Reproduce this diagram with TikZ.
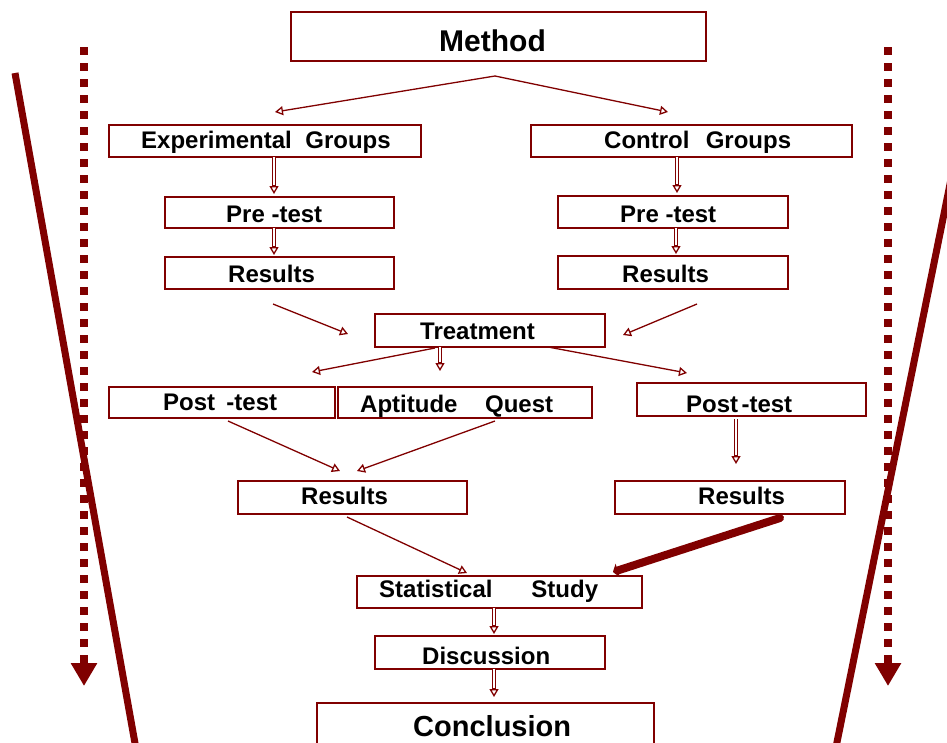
\documentclass[tikz,border=0pt]{standalone}
\usepackage{fontspec}
\setmainfont{Liberation Sans}
\usetikzlibrary{arrows.meta,calc}
\definecolor{dred}{HTML}{800000}
\begin{document}
\begin{tikzpicture}[x=1pt,y=-1pt,
  box/.style={draw=dred, line width=2pt, inner sep=0pt},
  lbl/.style={anchor=base west, inner sep=0pt, font=\fontsize{24}{28}\selectfont\bfseries},
  arr/.style={draw=dred, line width=1.3pt, -{Triangle[open,length=8pt,width=9pt]}},
  dbl/.style={draw=dred, double=white, double distance=2pt, line width=0.9pt},
  side/.style={draw=dred, line width=7pt},
  dots/.style={draw=dred, line width=8pt, dash pattern=on 7.5pt off 8.5pt, -{Triangle[length=23pt,width=25pt]}},
  heavy/.style={draw=dred, line width=8pt, line cap=round, -{Triangle[length=5pt,width=14pt]}}
  ]
\useasboundingbox (0,0) rectangle (947,742);
\clip (0,0) rectangle (947,742);

% side decorations
\coordinate (ltop) at (15,73);   \coordinate (lbot) at (138,760);
\coordinate (rtop) at (963,120); \coordinate (rbot) at (834,757);
\draw[side] (ltop) -- (lbot);
\draw[side] (rtop) -- (rbot);
\coordinate (ldtop) at (84,47);  \coordinate (ldbot) at (84,686);
\coordinate (rdtop) at (888,47); \coordinate (rdbot) at (888,686);
\draw[dots] (ldtop) -- (ldbot);
\draw[dots] (rdtop) -- (rdbot);

% boxes
\node[box, minimum width=415pt, minimum height=49pt] (method) at (498.5,36.5) {};
\node[box, minimum width=312pt, minimum height=32pt] (exp)    at (265,141) {};
\node[box, minimum width=321pt, minimum height=32pt] (ctrl)   at (691.5,141) {};
\node[box, minimum width=229pt, minimum height=31pt] (pre1)   at (279.5,212.5) {};
\node[box, minimum width=229pt, minimum height=32pt] (res1)   at (279.5,273) {};
\node[box, minimum width=230pt, minimum height=32pt] (pre2)   at (673,212) {};
\node[box, minimum width=230pt, minimum height=33pt] (res2)   at (673,272.5) {};
\node[box, minimum width=230pt, minimum height=33pt] (treat)  at (490,330.5) {};
\node[box, minimum width=226pt, minimum height=31pt] (post1)  at (222,402.5) {};
\node[box, minimum width=254pt, minimum height=31pt] (apt)    at (465,402.5) {};
\node[box, minimum width=229pt, minimum height=33pt] (post2)  at (751.5,399.5) {};
\node[box, minimum width=229pt, minimum height=33pt] (res3)   at (352.5,497.5) {};
\node[box, minimum width=230pt, minimum height=33pt] (res4)   at (730,497.5) {};
\node[box, minimum width=285pt, minimum height=32pt] (stat)   at (499.5,592) {};
\node[box, minimum width=230pt, minimum height=33pt] (disc)   at (490,652.5) {};
\node[box, minimum width=337pt, minimum height=67pt] (concl)  at (485.5,736.5) {};

% labels
\node[lbl] (method-t) at (439,51) {\fontsize{30}{34}\selectfont Method};
\node[lbl] (exp-t)   at (141,148) {Experimental\hspace{0.56em}Groups};
\node[lbl] (ctrl-t)  at (604,148) {Control\hspace{0.68em}Groups};
\node[lbl] (pre1-t)  at (226,222) {Pre -test};
\node[lbl] (res1-t)  at (228,282) {Results};
\node[lbl] (pre2-t)  at (620,222) {Pre -test};
\node[lbl] (res2-t)  at (622,282) {Results};
\node[lbl] (treat-t) at (420,339) {Treatment};
\node[lbl] (post1-t) at (163,410.5) {Post\hspace{0.47em}-test};
\node[lbl] (apt-t)   at (360,412.5) {Aptitude\hspace{1.15em}Quest};
\node[lbl] (post2-t) at (686,412) {Post\hspace{0.14em}-test};
\node[lbl] (res3-t)  at (301,504) {Results};
\node[lbl] (res4-t)  at (698,504) {Results};
\node[lbl] (stat-t)  at (379,597) {Statistical\hspace{1.62em}Study};
\node[lbl] (disc-t)  at (422,664) {Discussion};
\node[lbl] (concl-t) at (413,736) {\fontsize{29}{33}\selectfont Conclusion};

% connector end points
\coordinate (m1) at (495,76);
\coordinate (e1) at (275,112);
\coordinate (c1) at (668,112);
\coordinate (a1) at (274,157);  \coordinate (a2) at (274,194);
\coordinate (b1) at (677,157);  \coordinate (b2) at (677,193);
\coordinate (a3) at (274,228);  \coordinate (a4) at (274,255);
\coordinate (b3) at (676,228);  \coordinate (b4) at (676,254);
\coordinate (r1a) at (273,304); \coordinate (r1b) at (348,334);
\coordinate (r2a) at (697,304); \coordinate (r2b) at (623,335);
\coordinate (t1a) at (435,348); \coordinate (t1b) at (312,372);
\coordinate (t2a) at (440,347); \coordinate (t2b) at (440,371);
\coordinate (t3a) at (548,347); \coordinate (t3b) at (687,373);
\coordinate (p1a) at (228,421); \coordinate (p1b) at (340,471);
\coordinate (qa)  at (495,421); \coordinate (qb)  at (357,471);
\coordinate (p2a) at (736,419); \coordinate (p2b) at (736,464);
\coordinate (s1a) at (347,517); \coordinate (s1b) at (467,573);
\coordinate (s2a) at (780,518); \coordinate (s2b) at (613,572);
\coordinate (d1a) at (494,608); \coordinate (d1b) at (494,634);
\coordinate (d2a) at (494,669); \coordinate (d2b) at (494,697);

% thin arrows
\draw[arr] (m1) -- (e1);
\draw[arr] (m1) -- (c1);
\draw[arr] (r1a) -- (r1b);
\draw[arr] (r2a) -- (r2b);
\draw[arr] (t1a) -- (t1b);
\draw[arr] (t3a) -- (t3b);
\draw[arr] (p1a) -- (p1b);
\draw[arr] (qa) -- (qb);
\draw[arr] (s1a) -- (s1b);

% double vertical arrows
\foreach \s/\e in {a1/a2,b1/b2,a3/a4,b3/b4,t2a/t2b,p2a/p2b,d1a/d1b,d2a/d2b}{
  \draw[dbl] (\s) -- ($(\e)+(0,-7)$);
  \draw[arr] ($(\e)+(0,-9)$) -- (\e);
}

% heavy arrow
\draw[heavy] (s2a) -- (s2b);
\end{tikzpicture}
\end{document}
